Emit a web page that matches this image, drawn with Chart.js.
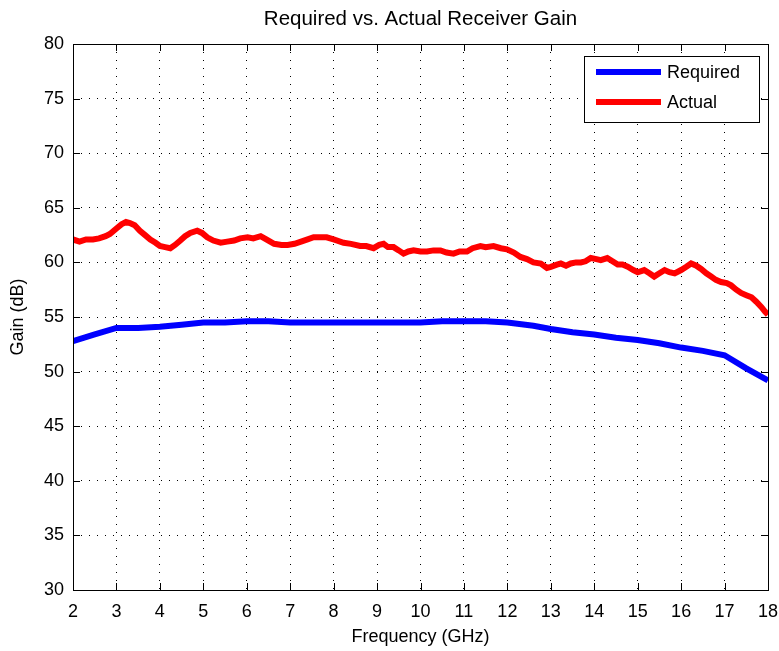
<!DOCTYPE html>
<html>
<head>
<meta charset="utf-8">
<title>Required vs. Actual Receiver Gain</title>
<script src="https://cdn.jsdelivr.net/npm/chart.js@4/dist/chart.umd.min.js"></script>
<style>
  html, body { margin: 0; padding: 0; background: #fff; }
  #wrap { width: 779px; height: 651px; }
</style>
</head>
<body>
<div id="wrap"><canvas id="gainChart" width="779" height="651"></canvas></div>
<script>
// Required gain curve (GHz, dB)
const freqRequired = [2.0, 2.5, 3.0, 3.5, 4.0, 4.5, 5.0, 5.5, 6.0, 6.5, 7.0, 8.0, 9.0, 10.0, 10.5,
  11.0, 11.5, 12.0, 12.6, 13.0, 13.5, 14.0, 14.5, 15.0, 15.5, 16.0, 16.5, 17.0, 17.5, 18.0];
const gainRequired = [52.8, 53.4, 54.0, 54.0, 54.1, 54.3, 54.5, 54.5, 54.6, 54.6, 54.5, 54.5, 54.5, 54.5, 54.6,
  54.6, 54.6, 54.5, 54.2, 53.9, 53.6, 53.4, 53.1, 52.9, 52.6, 52.2, 51.9, 51.5, 50.3, 49.2];

// Measured gain (GHz, dB)
const freqActual = [2.0, 2.15, 2.3, 2.46, 2.6, 2.75, 2.85, 3.0, 3.12, 3.22, 3.31, 3.42, 3.54, 3.66, 3.78,
  3.9, 4.0, 4.12, 4.24, 4.35, 4.47, 4.58, 4.7, 4.86, 4.97, 5.09, 5.23, 5.4, 5.55, 5.71,
  5.85, 6.02, 6.15, 6.32, 6.45, 6.63, 6.8, 6.94, 7.1, 7.25, 7.4, 7.54, 7.7, 7.84, 8.0,
  8.23, 8.4, 8.61, 8.75, 8.92, 9.05, 9.15, 9.25, 9.38, 9.5, 9.61, 9.72, 9.84, 10.0, 10.15,
  10.3, 10.46, 10.6, 10.76, 10.9, 11.07, 11.2, 11.38, 11.5, 11.68, 11.85, 11.99, 12.15, 12.3, 12.45,
  12.6, 12.77, 12.91, 13.0, 13.14, 13.23, 13.35, 13.46, 13.58, 13.69, 13.8, 13.92, 14.05, 14.15, 14.3,
  14.42, 14.54, 14.65, 14.77, 14.9, 15.0, 15.15, 15.27, 15.38, 15.5, 15.62, 15.73, 15.85, 16.0, 16.12,
  16.23, 16.35, 16.46, 16.58, 16.69, 16.8, 16.92, 17.05, 17.15, 17.27, 17.38, 17.5, 17.62, 17.73, 17.85,
  17.93, 18.0];
const gainActual = [62.1, 61.9, 62.1, 62.1, 62.2, 62.4, 62.6, 63.1, 63.5, 63.7, 63.6, 63.4, 62.9, 62.5, 62.1,
  61.8, 61.5, 61.4, 61.3, 61.6, 62.0, 62.4, 62.7, 62.9, 62.7, 62.3, 62.0, 61.8, 61.9, 62.0,
  62.2, 62.3, 62.2, 62.4, 62.1, 61.7, 61.6, 61.6, 61.7, 61.9, 62.1, 62.3, 62.3, 62.3, 62.1,
  61.8, 61.7, 61.5, 61.5, 61.3, 61.6, 61.7, 61.4, 61.4, 61.1, 60.8, 61.0, 61.1, 61.0, 61.0,
  61.1, 61.1, 60.9, 60.8, 61.0, 61.0, 61.3, 61.5, 61.4, 61.5, 61.3, 61.2, 60.9, 60.5, 60.3,
  60.0, 59.9, 59.5, 59.6, 59.8, 59.9, 59.7, 59.9, 60.0, 60.0, 60.1, 60.4, 60.3, 60.2, 60.4,
  60.1, 59.8, 59.8, 59.6, 59.3, 59.1, 59.3, 59.0, 58.7, 59.0, 59.3, 59.1, 59.0, 59.3, 59.6,
  59.9, 59.7, 59.4, 59.0, 58.7, 58.4, 58.2, 58.1, 57.9, 57.5, 57.2, 57.0, 56.8, 56.4, 55.9,
  55.5, 55.2];

const chartTitle = 'Required vs. Actual Receiver Gain';
const FONT = '"Liberation Sans", Arial, Helvetica, sans-serif';

function toPoints(xs, ys) {
    return xs.map(function(x, i) { return { x: x, y: ys[i] }; });
}

// Title over the plot box, box around the axes, inward ticks on all four sides, legend
const matlabAxes = {
    id: 'matlabAxes',
    afterDraw: function(chart) {
        const ctx = chart.ctx;
        const a = chart.chartArea;
        const xs = chart.scales.x;
        const ys = chart.scales.y;
        const tl = 7;

        ctx.save();
        ctx.fillStyle = '#000';
        ctx.font = '20.5px ' + FONT;
        ctx.textAlign = 'center';
        ctx.textBaseline = 'middle';
        ctx.fillText(chartTitle, (a.left + a.right) / 2, 19);

        ctx.strokeStyle = '#000';
        ctx.lineWidth = 1;
        ctx.setLineDash([]);
        ctx.beginPath();
        xs.ticks.forEach(function(t) {
            const px = Math.round(xs.getPixelForValue(t.value)) + 0.5;
            ctx.moveTo(px, a.bottom); ctx.lineTo(px, a.bottom - tl);
            ctx.moveTo(px, a.top); ctx.lineTo(px, a.top + tl);
        });
        ys.ticks.forEach(function(t) {
            const py = Math.round(ys.getPixelForValue(t.value)) + 0.5;
            ctx.moveTo(a.left, py); ctx.lineTo(a.left + tl, py);
            ctx.moveTo(a.right, py); ctx.lineTo(a.right - tl, py);
        });
        ctx.stroke();
        ctx.strokeRect(Math.round(a.left) + 0.5, Math.round(a.top) + 0.5,
            Math.round(a.right - a.left), Math.round(a.bottom - a.top));

        // legend
        const bx = 584, by = 56, bw = 175, bh = 66;
        ctx.fillStyle = '#fff';
        ctx.fillRect(bx, by, bw, bh);
        ctx.strokeRect(bx + 0.5, by + 0.5, bw, bh);
        ctx.font = '18px ' + FONT;
        ctx.textAlign = 'left';
        chart.data.datasets.forEach(function(ds, i) {
            const ly = by + 16 + i * 30;
            ctx.strokeStyle = ds.borderColor;
            ctx.lineWidth = 6;
            ctx.beginPath();
            ctx.moveTo(596, ly);
            ctx.lineTo(661, ly);
            ctx.stroke();
            ctx.fillStyle = '#000';
            ctx.fillText(ds.label, 667, ly + 1);
        });
        ctx.restore();
    }
};

const ctx = document.getElementById('gainChart').getContext('2d');
const gainChart = new Chart(ctx, {
    type: 'line',
    data: {
        datasets: [{
            label: 'Required',
            data: toPoints(freqRequired, gainRequired),
            borderColor: '#0000ff',
            backgroundColor: '#0000ff',
            borderWidth: 6,
            pointRadius: 0,
            tension: 0
        }, {
            label: 'Actual',
            data: toPoints(freqActual, gainActual),
            borderColor: '#ff0000',
            backgroundColor: '#ff0000',
            borderWidth: 6,
            pointRadius: 0,
            tension: 0
        }]
    },
    options: {
        responsive: false,
        animation: false,
        events: [],
        layout: { padding: { top: 44, right: 11, left: 0, bottom: 0 } },
        plugins: {
            legend: { display: false },
            tooltip: { enabled: false },
            title: { display: false }
        },
        scales: {
            x: {
                type: 'linear',
                min: 2,
                max: 18,
                afterFit: function(scale) {
                    scale.height = 61;
                    scale.paddingLeft = 0;
                    scale.paddingRight = 0;
                },
                ticks: {
                    stepSize: 1,
                    color: '#000',
                    padding: 11,
                    maxRotation: 0,
                    font: { family: FONT, size: 18 }
                },
                grid: { color: '#000', lineWidth: 1, drawTicks: false },
                border: { display: false, dash: [1, 7] },
                title: {
                    display: true,
                    text: 'Frequency (GHz)',
                    color: '#000',
                    font: { family: FONT, size: 18 },
                    padding: { top: 0, bottom: 3 }
                }
            },
            y: {
                min: 30,
                max: 80,
                afterFit: function(scale) {
                    scale.width = 73;
                    scale.paddingTop = 0;
                    scale.paddingBottom = 0;
                },
                ticks: {
                    stepSize: 5,
                    color: '#000',
                    padding: 9,
                    font: { family: FONT, size: 18 }
                },
                grid: { color: '#000', lineWidth: 1, drawTicks: false },
                border: { display: false, dash: [1, 7] },
                title: {
                    display: true,
                    text: 'Gain (dB)',
                    color: '#000',
                    font: { family: FONT, size: 18 },
                    padding: { top: 7, bottom: 0 }
                }
            }
        }
    },
    plugins: [matlabAxes]
});
</script>
</body>
</html>
